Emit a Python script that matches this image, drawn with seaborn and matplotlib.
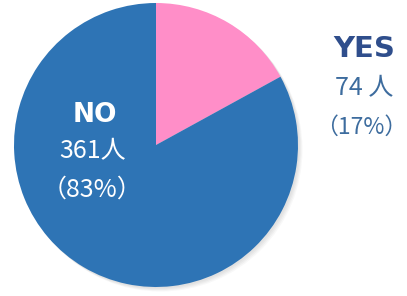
import matplotlib
matplotlib.use("Agg")
import matplotlib.pyplot as plt
import seaborn as sns
from matplotlib.patches import Circle

sns.set_theme(style="white")
plt.rcParams['font.family'] = ['Noto Sans CJK JP', 'DejaVu Sans']

labels = ["YES", "NO"]
counts = [74, 361]
count_texts = ["74 人", "361人"]
pct_texts = ["（17%）", "（83%）"]
colors = ["#FF8EC8", "#2E74B5"]

W, H = 407, 296
fig = plt.figure(figsize=(W / 100, H / 100), dpi=100)
ax = fig.add_axes([0, 0, 1, 1])

cx, cy, r = 156, H - 145, 142
# soft shadow
for i, a in enumerate([0.06, 0.06, 0.06, 0.05]):
    ax.add_patch(Circle((cx + 1.5 + i, cy - 1.5 - i), r, color="#777777", alpha=a, lw=0, zorder=0))

wedges, _ = ax.pie(counts, colors=colors, startangle=90, counterclock=False,
                   center=(cx, cy), radius=r, frame=True,
                   wedgeprops=dict(linewidth=0))
for w in wedges:
    w.set_zorder(2)

ax.set_xlim(0, W)
ax.set_ylim(0, H)
ax.set_aspect("equal")
ax.set_axis_off()

# NO labels (inside)
ax.text(95, H - 115, labels[1], color="white", fontsize=19, fontweight="heavy",
        family=["DejaVu Sans"], ha="center", va="center", zorder=3)
ax.text(93, H - 151, count_texts[1], color="white", fontsize=18,
        ha="center", va="center", zorder=3)
ax.text(92, H - 190, pct_texts[1], color="white", fontsize=18,
        ha="center", va="center", zorder=3)

# YES labels (outside)
ax.text(364, H - 49, labels[0], color="#2F4E8C", fontsize=21, fontweight="heavy",
        family=["DejaVu Sans"], ha="center", va="center", zorder=3)
ax.text(364, H - 88, count_texts[0], color="#3D6C9E", fontsize=18,
        ha="center", va="center", zorder=3)
ax.text(361, H - 127, pct_texts[0], color="#3D6C9E", fontsize=16.5,
        ha="center", va="center", zorder=3)

fig.savefig("out.png", dpi=100, facecolor="white")
